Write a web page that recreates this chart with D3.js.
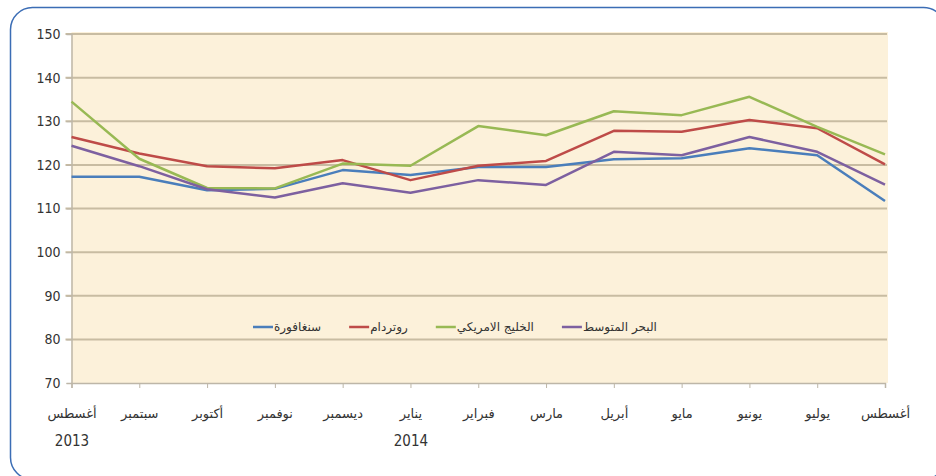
<!DOCTYPE html>
<html>
<head>
<meta charset="utf-8">
<script src="https://cdn.jsdelivr.net/npm/d3@7"></script>
<style>
  body { margin: 0; background: #fff; }
  .tick text { fill: #333; }
</style>
</head>
<body>
<div id="chart"></div>
<script>
// months (Aug 2013 - Aug 2014)
var months = ["أغسطس", "سبتمبر", "أكتوبر", "نوفمبر", "ديسمبر", "يناير", "فبراير", "مارس", "أبريل", "مايو", "يونيو", "يوليو", "أغسطس"];
var years = ["2013", "", "", "", "", "2014", "", "", "", "", "", "", ""];
var yTicks = [70, 80, 90, 100, 110, 120, 130, 140, 150];

var seriesNames = ["سنغافورة", "روتردام", "الخليج الامريكي", "البحر المتوسط"];
var seriesColors = ["#4a7ebb", "#be4b48", "#98b954", "#7d60a0"];

var singapore = [117.3, 117.3, 114.2, 114.5, 118.8, 117.7, 119.5, 119.5, 121.3, 121.5, 123.8, 122.2, 111.7];
var rotterdam = [126.4, 122.6, 119.7, 119.2, 121.1, 116.5, 119.8, 120.9, 127.8, 127.6, 130.3, 128.4, 120.1];
var usGulf = [134.5, 121.4, 114.7, 114.6, 120.3, 119.8, 128.9, 126.8, 132.3, 131.4, 135.6, 128.7, 122.4];
var mediterranean = [124.4, 119.7, 114.4, 112.5, 115.8, 113.6, 116.5, 115.4, 123.0, 122.2, 126.4, 123.0, 115.5];

var allSeries = [singapore, rotterdam, usGulf, mediterranean];

var W = 936, H = 476;
var margin = {top: 34, right: 51, bottom: 93, left: 71.5};
var width = W - margin.left - margin.right,
    height = H - margin.top - margin.bottom;

var root = d3.select("#chart").append("svg")
    .attr("width", W)
    .attr("height", H);

// rounded frame
root.append("rect")
    .attr("x", 10.5).attr("y", 7.5)
    .attr("width", 935).attr("height", 472)
    .attr("rx", 22).attr("ry", 22)
    .attr("fill", "none")
    .attr("stroke", "#3b6db5")
    .attr("stroke-width", 1.5);

var svg = root.append("g")
    .attr("transform", "translate(" + margin.left + "," + margin.top + ")");

var x = d3.scalePoint()
    .domain(d3.range(months.length))
    .range([0, width]);

var y = d3.scaleLinear()
    .domain([70, 150])
    .range([height, 0]);

// plot background
svg.append("rect")
    .attr("x", 0).attr("y", -2)
    .attr("width", width + 3).attr("height", height + 2)
    .attr("fill", "#fcf1da");

// grid
svg.append("g")
    .selectAll("line")
    .data(yTicks.slice(1))
    .enter()
    .append("line")
      .attr("x1", -6).attr("x2", width + 2)
      .attr("y1", function(d){ return y(d); })
      .attr("y2", function(d){ return y(d); })
      .attr("stroke", "#c8bca2")
      .attr("stroke-width", 2);

// y axis
var yAxis = svg.append("g")
    .call(d3.axisLeft(y).tickValues(yTicks).tickSize(5).tickPadding(6));
yAxis.select(".domain").attr("stroke", "#bdb6a8").attr("stroke-width", 1.5);
yAxis.selectAll(".tick line").attr("stroke", "#bdb6a8");
yAxis.selectAll(".tick text")
    .style("font-family", "'Liberation Sans Narrow', 'DejaVu Sans Condensed', sans-serif")
    .style("font-size", "14px");

// x axis
var xAxis = svg.append("g")
    .attr("transform", "translate(0," + height + ")")
    .call(d3.axisBottom(x).tickFormat(function(d){ return months[d]; }).tickSize(5).tickPadding(21));
xAxis.select(".domain").attr("stroke", "#bdb6a8").attr("stroke-width", 1.5);
xAxis.selectAll(".tick line").attr("stroke", "#bdb6a8");
xAxis.selectAll(".tick text")
    .style("font-family", "'DejaVu Sans', sans-serif")
    .style("font-size", "13px")
    .attr("direction", "rtl");

// year labels below the month names
xAxis.selectAll(".tick")
    .append("text")
    .text(function(d){ return years[d]; })
    .attr("y", 63)
    .attr("fill", "#333")
    .attr("text-anchor", "middle")
    .style("font-family", "'Liberation Sans Narrow', 'DejaVu Sans Condensed', sans-serif")
    .style("font-size", "15px");

// lines
var line = d3.line()
    .x(function(d, i){ return x(i); })
    .y(function(d){ return y(d); });

svg.append("g")
    .selectAll("path")
    .data(allSeries)
    .enter()
    .append("path")
      .attr("d", line)
      .attr("fill", "none")
      .attr("stroke", function(d, i){ return seriesColors[i]; })
      .attr("stroke-width", 2.5)
      .attr("stroke-linejoin", "round");

// legend
var legend = root.append("g")
    .attr("transform", "translate(253,327)");
var lx = 0;
seriesNames.forEach(function(name, i){
    var g = legend.append("g").attr("transform", "translate(" + lx + ",0)");
    g.append("line")
      .attr("x1", 0).attr("x2", 20)
      .attr("stroke", seriesColors[i])
      .attr("stroke-width", 2.5);
    var t = g.append("text")
      .text(name)
      .attr("x", 21)
      .attr("dy", "0.35em")
      .attr("fill", "#333")
      .attr("direction", "ltr")
      .style("font-family", "'DejaVu Sans', sans-serif")
      .style("font-size", "12px");
    lx += 21 + t.node().getComputedTextLength() + 28;
});
</script>
</body>
</html>
